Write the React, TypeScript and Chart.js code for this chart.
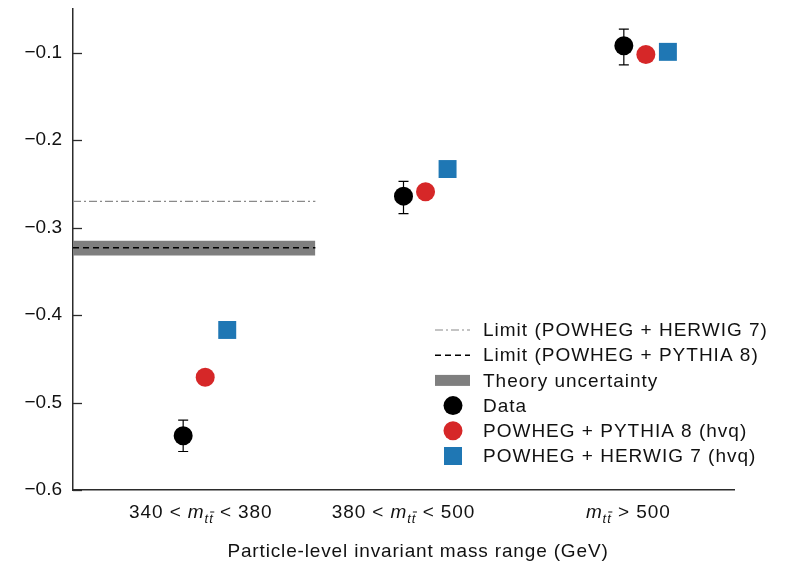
import React, { useEffect, useRef } from 'react';
import { Chart, registerables } from 'chart.js';

Chart.register(...registerables);

const FONT = '"Liberation Sans", Arial, Helvetica, sans-serif';

// Categories (particle-level m_tt ranges)
const categoryX = [1, 2, 3];
const categoryPre = ['340 < ', '380 < ', ''];
const categoryPost = [' < 380', ' < 500', ' > 500'];
const categoryLabelX = [0.98, 1.9, 2.92];

// Series values
const dataValues = [-0.538, -0.264, -0.092];
const dataErrLow = [0.018, 0.02, 0.022];
const dataErrHigh = [0.018, 0.017, 0.019];
const pythiaValues = [-0.471, -0.259, -0.102];
const herwigValues = [-0.417, -0.233, -0.099];
const dataOffset = -0.1;
const pythiaOffset = 0;
const herwigOffset = 0.1;

// Limits
const limitHerwig7 = -0.27;
const limitPythia8 = -0.323;
const theoryLow = -0.332;
const theoryHigh = -0.315;
const limitXRange = [0.4, 1.5];

// Axes
const yTicks = [-0.6, -0.5, -0.4, -0.3, -0.2, -0.1];
const xMin = 0.4;
const xMax = 3.4;
const yMin = -0.6;
const yMax = -0.05;

const xTitle = 'Particle-level invariant mass range (GeV)';
const legendLabels = [
  'Limit (POWHEG + HERWIG 7)',
  'Limit (POWHEG + PYTHIA 8)',
  'Theory uncertainty',
  'Data',
  'POWHEG + PYTHIA 8 (hvq)',
  'POWHEG + HERWIG 7 (hvq)',
];

const RED = '#d62728';
const BLUE = '#1f77b4';
const BAND = '#7f7f7f';
const DASHDOT = '#8a8a8a';
const AXIS = '#2b2b2b';
const TEXT = '#111111';
const FS = 19;

const fmt = (v: number) => (v < 0 ? '\u2212' : '') + Math.abs(v).toFixed(1);

const setSpacing = (ctx: any, px: number) => {
  if ('letterSpacing' in ctx) ctx.letterSpacing = `${px}px`;
};

const customPlugin = {
  id: 'custom',
  beforeDatasetDraw(chart: any, args: any) {
    if (args.meta.label !== 'Data') return;
    const { ctx } = chart;
    const xs = chart.scales.x;
    const ys = chart.scales.y;
    ctx.save();
    ctx.strokeStyle = '#000';
    ctx.lineWidth = 1.2;
    categoryX.forEach((c, i) => {
      const px = xs.getPixelForValue(c + dataOffset);
      const top = ys.getPixelForValue(dataValues[i] + dataErrHigh[i]);
      const bot = ys.getPixelForValue(dataValues[i] - dataErrLow[i]);
      ctx.beginPath();
      ctx.moveTo(px, top);
      ctx.lineTo(px, bot);
      ctx.moveTo(px - 5, top);
      ctx.lineTo(px + 5, top);
      ctx.moveTo(px - 5, bot);
      ctx.lineTo(px + 5, bot);
      ctx.stroke();
    });
    ctx.restore();
  },
  afterDraw(chart: any) {
    const { ctx, chartArea } = chart;
    const xs = chart.scales.x;
    const ys = chart.scales.y;
    ctx.save();
    // inward y ticks
    ctx.strokeStyle = AXIS;
    ctx.lineWidth = 1.3;
    yTicks.forEach((v) => {
      const py = Math.round(ys.getPixelForValue(v)) + 0.5;
      ctx.beginPath();
      ctx.moveTo(chartArea.left, py);
      ctx.lineTo(chartArea.left + 9, py);
      ctx.stroke();
    });

    // x category labels with math
    const base = chartArea.bottom + 28;
    categoryX.forEach((c, i) => {
      const cx = xs.getPixelForValue(categoryLabelX[i]);
      const normal = `${FS}px ${FONT}`;
      const ital = `italic ${FS}px ${FONT}`;
      const sub = `italic 13px ${FONT}`;
      setSpacing(ctx, 0.9);
      ctx.font = normal;
      const wPre = ctx.measureText(categoryPre[i]).width;
      const wPost = ctx.measureText(categoryPost[i]).width;
      ctx.font = ital;
      const wM = ctx.measureText('m').width;
      setSpacing(ctx, 0);
      ctx.font = sub;
      const wT = ctx.measureText('t').width;
      const wSub = wT * 2 + 2;
      const total = wPre + wM + wSub + wPost;
      let x = cx - total / 2;
      ctx.fillStyle = TEXT;
      ctx.textBaseline = 'alphabetic';
      ctx.textAlign = 'left';
      setSpacing(ctx, 0.9);
      ctx.font = normal;
      ctx.fillText(categoryPre[i], x, base);
      x += wPre;
      ctx.font = ital;
      ctx.fillText('m', x, base);
      x += wM;
      setSpacing(ctx, 0);
      ctx.font = sub;
      ctx.fillText('t', x, base + 5);
      ctx.fillText('t', x + wT + 1, base + 5);
      ctx.strokeStyle = TEXT;
      ctx.lineWidth = 1;
      ctx.beginPath();
      ctx.moveTo(x + wT + 2, base + 5 - 11);
      ctx.lineTo(x + 2 * wT + 2.5, base + 5 - 11);
      ctx.stroke();
      x += wSub;
      setSpacing(ctx, 0.9);
      ctx.font = normal;
      ctx.fillText(categoryPost[i], x, base);
    });

    // x title
    setSpacing(ctx, 0.85);
    ctx.font = `${FS}px ${FONT}`;
    ctx.textAlign = 'center';
    ctx.textBaseline = 'alphabetic';
    ctx.fillStyle = TEXT;
    ctx.fillText(xTitle, chartArea.left + 345, chartArea.bottom + 67);

    // legend
    const sx = chartArea.right - 281;
    const tx = chartArea.right - 251;
    const y0 = chartArea.bottom - 160;
    const step = 25.2;
    legendLabels.forEach((label, i) => {
      const cy = y0 + i * step;
      ctx.save();
      if (i === 0) {
        ctx.strokeStyle = DASHDOT;
        ctx.lineWidth = 1.2;
        ctx.setLineDash([8, 3, 2, 3]);
        ctx.beginPath();
        ctx.moveTo(sx - 18, cy);
        ctx.lineTo(sx + 17, cy);
        ctx.stroke();
      } else if (i === 1) {
        ctx.strokeStyle = '#000';
        ctx.lineWidth = 1.5;
        ctx.setLineDash([6, 4]);
        ctx.beginPath();
        ctx.moveTo(sx - 18, cy);
        ctx.lineTo(sx + 17, cy);
        ctx.stroke();
      } else if (i === 2) {
        ctx.fillStyle = BAND;
        ctx.fillRect(sx - 18, cy - 5.5, 35, 11);
      } else if (i === 3) {
        ctx.fillStyle = '#000';
        ctx.beginPath();
        ctx.arc(sx, cy, 9.5, 0, Math.PI * 2);
        ctx.fill();
      } else if (i === 4) {
        ctx.fillStyle = RED;
        ctx.beginPath();
        ctx.arc(sx, cy, 9.5, 0, Math.PI * 2);
        ctx.fill();
      } else {
        ctx.fillStyle = BLUE;
        ctx.fillRect(sx - 9, cy - 9, 18, 18);
      }
      ctx.restore();
      setSpacing(ctx, 1);
      ctx.font = `${FS}px ${FONT}`;
      ctx.textAlign = 'left';
      ctx.textBaseline = 'middle';
      ctx.fillStyle = TEXT;
      ctx.fillText(label, tx, cy + 1);
    });
    setSpacing(ctx, 0);
    ctx.restore();
  },
};

export default function App() {
  const ref = useRef<HTMLCanvasElement | null>(null);

  useEffect(() => {
    if (!ref.current) return;
    const lineSeg = (v: number) => [
      { x: limitXRange[0], y: v },
      { x: limitXRange[1], y: v },
    ];
    const chart = new Chart(ref.current, {
      type: 'scatter',
      data: {
        datasets: [
          {
            label: 'Data',
            data: categoryX.map((c, i) => ({ x: c + dataOffset, y: dataValues[i] })),
            pointStyle: 'circle',
            pointRadius: 9.5,
            pointBackgroundColor: '#000',
            pointBorderWidth: 0,
            order: 1,
          },
          {
            label: 'POWHEG + PYTHIA 8 (hvq)',
            data: categoryX.map((c, i) => ({ x: c + pythiaOffset, y: pythiaValues[i] })),
            pointStyle: 'circle',
            pointRadius: 9.5,
            pointBackgroundColor: RED,
            pointBorderWidth: 0,
            order: 2,
          },
          {
            label: 'POWHEG + HERWIG 7 (hvq)',
            data: categoryX.map((c, i) => ({ x: c + herwigOffset, y: herwigValues[i] })),
            pointStyle: 'rect',
            pointRadius: 12.7,
            pointBackgroundColor: BLUE,
            pointBorderWidth: 0,
            order: 3,
          },
          {
            type: 'line',
            label: 'Limit (POWHEG + HERWIG 7)',
            data: lineSeg(limitHerwig7),
            borderColor: DASHDOT,
            borderWidth: 1.2,
            borderDash: [8, 3, 2, 3],
            pointRadius: 0,
            fill: false,
            order: 4,
          },
          {
            type: 'line',
            label: 'Limit (POWHEG + PYTHIA 8)',
            data: lineSeg(limitPythia8),
            borderColor: '#000',
            borderWidth: 1.5,
            borderDash: [6, 4],
            pointRadius: 0,
            fill: false,
            order: 5,
          },
          {
            type: 'line',
            label: 'Theory uncertainty',
            data: lineSeg(theoryHigh),
            borderColor: 'rgba(0,0,0,0)',
            borderWidth: 0,
            backgroundColor: BAND,
            pointRadius: 0,
            fill: { value: theoryLow },
            order: 6,
          },
        ] as any,
      },
      options: {
        animation: false,
        responsive: false,
        events: [],
        layout: { autoPadding: false, padding: { top: 9, right: 54, left: 0, bottom: 0 } },
        plugins: {
          legend: { display: false },
          tooltip: { enabled: false },
        },
        scales: {
          x: {
            type: 'linear',
            min: xMin,
            max: xMax,
            grid: { display: true, drawOnChartArea: false, drawTicks: false },
            border: { display: true, color: AXIS, width: 1.5 },
            ticks: { display: false },
            afterFit: (s: any) => {
              s.height = 74;
              s.paddingLeft = 0;
              s.paddingRight = 0;
            },
          },
          y: {
            type: 'linear',
            min: yMin,
            max: yMax,
            grid: { display: true, drawOnChartArea: false, drawTicks: false },
            border: { display: true, color: AXIS, width: 1.5 },
            afterBuildTicks: (s: any) => {
              s.ticks = yTicks.map((v) => ({ value: v }));
            },
            ticks: {
              padding: 11,
              color: TEXT,
              font: { family: FONT, size: FS },
              callback: (v: any) => fmt(Number(v)),
            },
            afterFit: (s: any) => {
              s.width = 73;
              s.paddingTop = 0;
              s.paddingBottom = 0;
            },
          },
        },
      } as any,
      plugins: [customPlugin],
    });
    return () => chart.destroy();
  }, []);

  return (
    <div style={{ position: 'fixed', left: 0, top: 0, width: 788, height: 564, background: '#fff' }}>
      <canvas ref={ref} width={788} height={564} style={{ width: 788, height: 564, display: 'block' }} />
    </div>
  );
}
